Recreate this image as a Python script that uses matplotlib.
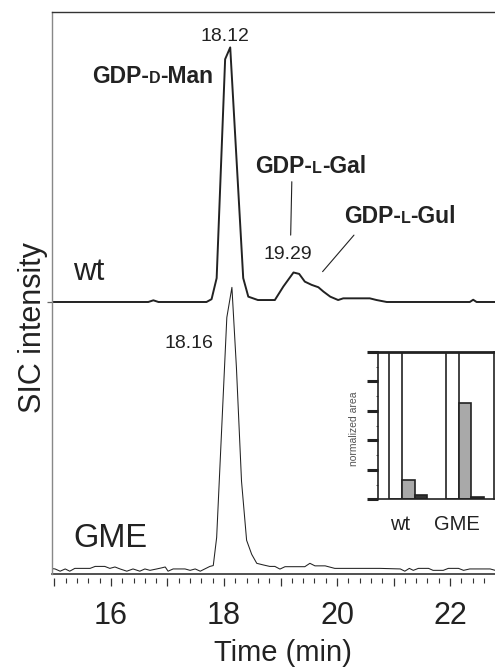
import numpy as np
import matplotlib
matplotlib.use('Agg')
import matplotlib.pyplot as plt
from matplotlib.ticker import MultipleLocator, FuncFormatter
from matplotlib.offsetbox import TextArea, HPacker, AnnotationBbox

# SIC traces, time in min, intensity relative to the GME peak (=100)
wt_time = [14.95, 16.66, 16.75, 16.84, 17.69, 17.78, 17.87, 18.02, 18.11, 18.34,
           18.43, 18.60, 18.90, 19.05, 19.23, 19.33, 19.43, 19.55, 19.67, 19.76,
           19.88, 20.02, 20.11, 20.58, 20.70, 20.88, 22.35, 22.41, 22.47, 22.80]
wt_signal = [0, 0, 0.6, 0, 0, 1.0, 8.5, 86.4, 90.6, 8.5,
             1.9, 0.7, 0.7, 5.5, 10.5, 10.0, 7.25, 6.1, 5.25, 3.7,
             1.9, 0.7, 1.3, 1.3, 0.7, 0, 0, 0.8, 0, 0]
wt_offset = 94.8

gme_time = [14.92, 15.01, 15.10, 15.19, 15.27, 15.36, 15.63, 15.72, 15.89, 15.98,
            16.07, 16.16, 16.28, 16.39, 16.51, 16.60, 16.69, 16.81, 16.90, 16.96,
            17.01, 17.10, 17.31, 17.40, 17.49, 17.58, 17.66, 17.75, 17.81, 17.87,
            18.05, 18.14, 18.22, 18.31, 18.40, 18.49, 18.58, 18.70, 18.81, 18.90,
            18.99, 19.08, 19.43, 19.52, 19.61, 19.79, 19.96, 20.76, 21.12, 21.20,
            21.28, 21.35, 21.44, 21.62, 21.70, 21.88, 21.97, 22.15, 22.24, 22.35,
            22.71, 22.80]
gme_signal = [0, -0.2, -1.0, -0.2, -1.0, 0, 0, 0.7, 0.7, 0,
              0.5, -0.2, -1.0, -0.2, -1.0, -0.2, -0.7, -0.2, 0.2, 0.5,
              -1.0, -0.2, -0.2, -0.7, -0.2, -1.0, -0.2, 0.7, 1.0, 11.0,
              89.3, 100, 71.4, 31.0, 10.0, 5.0, 1.8, 1.2, 0.7, 0.7,
              -0.25, 0.6, 0.6, 1.8, 0.9, 0.9, 0, 0, -0.2, -1.0,
              0, -0.7, 0, 0, -0.7, -0.7, 0, 0, -0.7, -0.2,
              -0.2, -0.7]

# inset: normalized peak areas
groups = ['wt', 'GME']
man_area = [1.0, 1.0]
gal_area = [0.131, 0.652]
gul_area = [0.029, 0.016]

plt.rcParams['font.family'] = ['Liberation Sans', 'DejaVu Sans']
ink = '#222222'


def small_caps_label(ax, parts, xy):
    """Bold label built from pieces of different size, sitting on one baseline."""
    boxes = [TextArea(s, textprops=dict(fontsize=fs, fontweight='bold', color=ink))
             for s, fs in parts]
    pack = HPacker(children=boxes, align='baseline', pad=0, sep=0)
    ab = AnnotationBbox(pack, xy, xycoords='data', frameon=False,
                        box_alignment=(0.5, 0.22), pad=0)
    ax.add_artist(ab)


fig = plt.figure(figsize=(4.95, 6.67), dpi=100)
ax = fig.add_axes([52 / 495, 93 / 667, 443 / 495, 562 / 667])

ax.plot(wt_time, np.array(wt_signal) + wt_offset, color=ink, lw=1.4)
ax.plot(gme_time, gme_signal, color=ink, lw=0.75)

ax.set_xlim(14.956, 22.796)
ax.set_ylim(-2.0, 198)

ax.spines['right'].set_visible(False)
ax.spines['top'].set_color('#333333')
ax.spines['top'].set_linewidth(1.0)
ax.spines['left'].set_color('#888888')
ax.spines['left'].set_linewidth(1.0)
ax.spines['bottom'].set_position(('outward', 3))
ax.spines['bottom'].set_color('none')
ax.axhline(ax.get_ylim()[0], color='#333333', lw=1.2, clip_on=False)

ax.xaxis.set_major_locator(MultipleLocator(1))
ax.xaxis.set_minor_locator(MultipleLocator(0.2))
ax.xaxis.set_major_formatter(FuncFormatter(lambda v, p: f'{v:.0f}' if round(v) % 2 == 0 else ''))
ax.tick_params(axis='x', which='major', direction='out', length=6, width=0.9,
               color='#333333', labelsize=22, pad=10.5, labelcolor=ink)
ax.tick_params(axis='x', which='minor', direction='out', length=3.6, width=0.8,
               color='#333333')
ax.set_yticks([wt_offset])
ax.set_yticklabels([])
ax.tick_params(axis='y', direction='out', length=3.6, width=0.9, color='#666666')

ax.set_xlabel('Time (min)', fontsize=21, color=ink)
ax.xaxis.set_label_coords(0.522, -0.116)
ax.set_ylabel('SIC intensity', fontsize=22, color=ink)
ax.yaxis.set_label_coords(-0.009, 0.4386)

# trace names and peak labels
ax.text(15.33, wt_offset + 7.8, 'wt', fontsize=22.5, color=ink, ha='left', va='baseline')
ax.text(15.33, 7.7, 'GME', fontsize=23.5, color=ink, ha='left', va='baseline')
ax.text(18.02, 187.8, '18.12', fontsize=14, color=ink, ha='center', va='baseline')
ax.text(19.133, 110.0, '19.29', fontsize=14, color=ink, ha='center', va='baseline')
ax.text(17.38, 78.5, '18.16', fontsize=14, color=ink, ha='center', va='baseline')

small_caps_label(ax, [('GDP-', 16.5), ('D', 11.5), ('-Man', 16.5)], (16.735, 172.8))
small_caps_label(ax, [('GDP-', 16.5), ('L', 11.5), ('-Gal', 16.5)], (19.531, 140.9))
small_caps_label(ax, [('GDP-', 16.5), ('L', 11.5), ('-Gul', 16.5)], (21.115, 123.0))

ax.annotate('', xy=(19.18, 118.6), xytext=(19.20, 137.6),
            arrowprops=dict(arrowstyle='-', lw=0.8, color=ink, shrinkA=0, shrinkB=0))
ax.annotate('', xy=(19.745, 105.6), xytext=(20.30, 118.6),
            arrowprops=dict(arrowstyle='-', lw=0.8, color=ink, shrinkA=0, shrinkB=0))

# inset bar chart
ins = fig.add_axes([378 / 495, (667 - 499.3) / 667, 116 / 495, 147.3 / 667])
x = np.arange(len(groups))
w = 0.222
ins.bar(x - w, man_area, w, color='white', edgecolor=ink, lw=1.2)
ins.bar(x, gal_area, w, color='#a9a9a9', edgecolor=ink, lw=1.2)
ins.bar(x + w, gul_area, w, color='#333333', edgecolor=ink, lw=1.2)
ins.set_xlim(-0.534, 1.511)
ins.set_ylim(0, 1.0)
for side in ['left', 'right', 'bottom']:
    ins.spines[side].set_color(ink)
    ins.spines[side].set_linewidth(1.2)
ins.spines['top'].set_color(ink)
ins.spines['top'].set_linewidth(2.0)
ins.yaxis.set_major_locator(MultipleLocator(0.2))
ins.yaxis.set_minor_locator(MultipleLocator(0.1))
ins.yaxis.set_major_formatter(FuncFormatter(lambda v, p: ''))
ins.tick_params(axis='y', which='major', direction='out', length=8, width=2.2, color=ink)
ins.tick_params(axis='y', which='minor', direction='out', length=1.5, width=0.7, color='#555555')
ins.set_xticks(x - 0.15)
ins.set_xticklabels(groups)
ins.tick_params(axis='x', length=0, labelsize=14.5, pad=11, labelcolor=ink)
ins.set_ylabel('normalized area', fontsize=7.5, color='#555555')
ins.yaxis.set_label_coords(-0.164, 0.477)

fig.savefig('out.png', dpi=100)
